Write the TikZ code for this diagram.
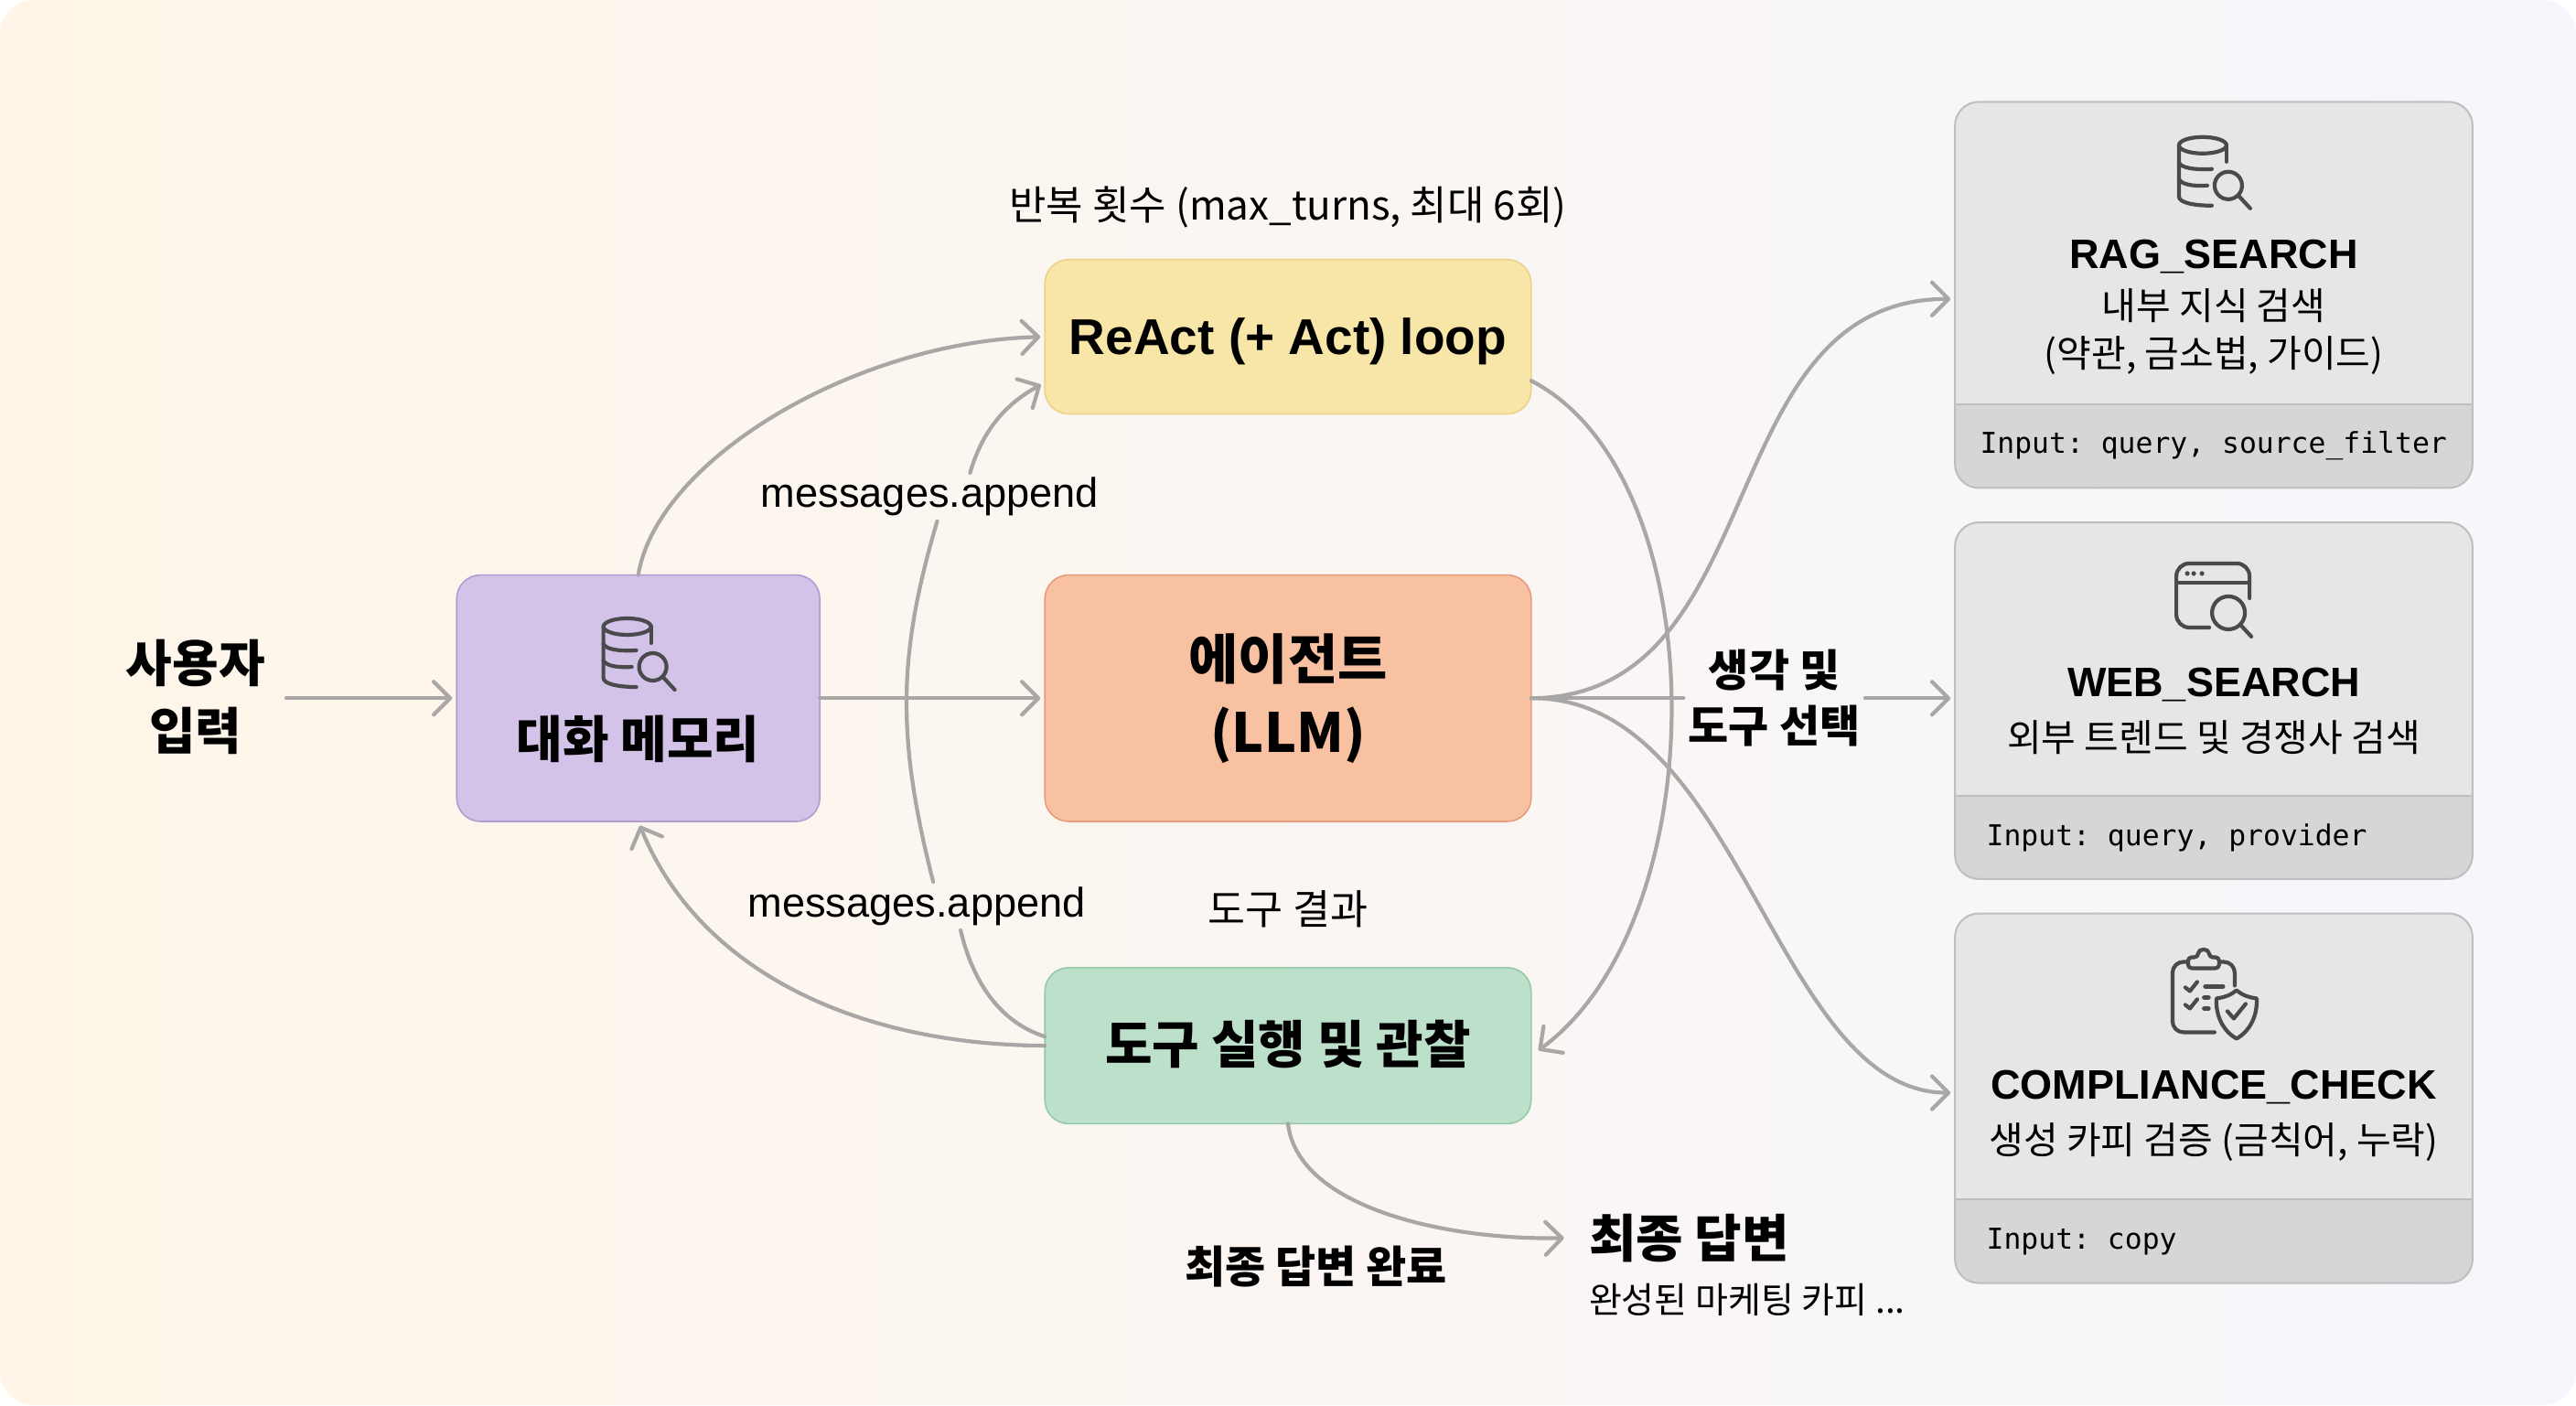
\documentclass[tikz,border=0pt]{standalone}
\usepackage{fontspec}
\setmainfont{Noto Sans CJK KR}
\newfontfamily\latinfont{Liberation Sans}
\newfontfamily\codefont{DejaVu Sans Mono}
\frenchspacing
\usetikzlibrary{arrows.meta,calc}
\definecolor{pagel}{HTML}{FFF6E9}
\definecolor{pagem}{HTML}{FCF9F5}
\definecolor{pager}{HTML}{F7F6FC}
\definecolor{wire}{HTML}{A9A7A5}
\definecolor{inkline}{HTML}{4A4A4C}
\definecolor{cardhi}{HTML}{E6E6E6}
\definecolor{cardlo}{HTML}{D5D6D6}
\definecolor{cardrim}{HTML}{BEBEBE}
\definecolor{BoxPurple}{HTML}{D4C3E9}
\definecolor{RimPurple}{HTML}{B39BD0}
\definecolor{BoxYellow}{HTML}{F8E6A8}
\definecolor{RimYellow}{HTML}{EBD38A}
\definecolor{BoxOrange}{HTML}{F8C2A2}
\definecolor{RimOrange}{HTML}{E79C7A}
\definecolor{BoxGreen}{HTML}{BCE0C9}
\definecolor{RimGreen}{HTML}{93CBA6}
\tikzset{
  box/.style={draw,line width=0.8pt,rounded corners=13pt,minimum width=265.8pt,outer sep=0pt,inner sep=0pt},
  card/.style={fill=cardhi,rounded corners=13pt,minimum width=282.9pt,outer sep=0pt,inner sep=0pt},
  flow/.style={draw=wire,line width=2.1pt,line cap=round,shorten >=2.5pt,-{Straight Barb[length=9pt,width=18pt,line width=2.1pt,round]}},
  plainflow/.style={draw=wire,line width=2.1pt,line cap=round},
  txt/.style={inner sep=2.5pt,align=center,text=black},
  icon/.style={draw=inkline,line width=2.1pt,line cap=round,line join=round},
  pics/dbicon/.style={code={
    \begin{scope}[x=0.5pt,y=-0.5pt,icon]
    \draw (-13,-28) ellipse [x radius=26,y radius=9];
    \draw (-39,-28) -- (-39,28) .. controls (-39,35) and (-22,38) .. (-3,38);
    \draw (13,-28) -- (13,-10);
    \draw (-39,-9) .. controls (-36,-3) and (-22,-1) .. (-3,-2);
    \draw (-39,9) .. controls (-36,15) and (-24,17) .. (-8,16);
    \draw (15,16) circle (15);
    \draw (26,27) -- (39,41);
    \end{scope}}},
  pics/webicon/.style={code={
    \begin{scope}[x=0.5pt,y=-0.5pt,icon]
    \draw[rounded corners=7pt] (-4,34) -- (-40,34) -- (-40,-36) -- (40,-36) -- (40,2);
    \draw (-40,-15) -- (40,-15);
    \foreach \d in {-28,-21,-12}
      \fill[inkline,draw=none] (\d,-25) circle (2.6);
    \draw (17,18) circle (18);
    \draw (30,31) -- (42,44);
    \end{scope}}},
  pics/clipicon/.style={code={
    \begin{scope}[x=0.5pt,y=-0.5pt,icon]
    \draw[rounded corners=6pt] (0,41) -- (-46,41) -- (-46,-36) -- (22,-36) -- (22,-10);
    \draw[fill=cardhi,rounded corners=2pt] (-29,-29) -- (-29,-41) -- (-18,-41) .. controls (-18,-51) and (-6,-51) .. (-6,-41) -- (5,-41) -- (5,-29) -- cycle;
    \foreach \d in {-8,11}
      \draw (-32,\d) -- (-27,{\d+4}) -- (-19,{\d-6});
    \draw[line width=2.6pt] (-10,-9) -- (9,-9);
    \draw[line width=2.8pt] (-11,3) -- (-7,3);
    \draw[line width=2.8pt] (-11,15) -- (-7,15);
    \draw (24,-5) .. controls (31,1) and (38,3) .. (46,4) .. controls (47,24) and (38,40) .. (24,48) .. controls (10,40) and (1,24) .. (2,4) .. controls (10,3) and (17,1) .. (24,-5) -- cycle;
    \draw (14,18) -- (21,26) -- (34,10);
    \end{scope}}}
}
\begin{document}
\begin{tikzpicture}[x=0.898pt,y=-0.898pt]
\useasboundingbox (0,0) rectangle (1568,855.3);
\shade[left color=pagel,middle color=pagem,right color=pager,rounded corners=18pt] (0,0) rectangle (1568,855.3);

\node[box,fill=BoxPurple,draw=RimPurple,minimum width=198.5pt,minimum height=134.7pt] (memory) at (388.5,425) {};
\node[box,fill=BoxYellow,draw=RimYellow,minimum height=84.4pt] (react) at (784,205) {};
\node[box,fill=BoxOrange,draw=RimOrange,minimum height=134.7pt] (agent) at (784,425) {};
\node[box,fill=BoxGreen,draw=RimGreen,minimum height=85.3pt] (exec) at (784,636.5) {};

\node[card,minimum height=211pt] (rag) at (1347.5,179.5) {};
\node[card,minimum height=194.9pt] (web) at (1347.5,426.5) {};
\node[card,minimum height=202pt] (comp) at (1347.5,668.5) {};
\foreach \n/\d in {rag/246,web/484.5,comp/730}{
  \begin{scope}
  \clip[rounded corners=13pt] (\n.north west) rectangle (\n.south east);
  \fill[cardlo] (\n.west |- 0,\d) rectangle (\n.south east);
  \end{scope}
  \draw[cardrim,line width=0.9pt] (\n.west |- 0,\d) -- (\n.east |- 0,\d);
  \draw[cardrim,line width=1pt,rounded corners=13pt] (\n.north west) rectangle (\n.south east);
}

\node[txt,font=\fontsize{27.5}{37}\selectfont\bfseries] (input) at (119,424) {사용자\\입력};
\node[txt,font=\fontsize{27.5}{37}\selectfont\bfseries] (memorytxt) at (388.5,450) {대화 메모리};
\node[txt,font=\latinfont\fontsize{27.5}{33}\selectfont\bfseries] (reacttxt) at (784,208) {ReAct (+ Act) loop};
\node[txt,font=\fontsize{29.5}{40}\selectfont\bfseries] (agenttxt) at (784,425) {에이전트\\(LLM)};
\node[txt,font=\fontsize{28}{34}\selectfont\bfseries] (exectxt) at (784,635.5) {도구 실행 및 관찰};
\node[txt,font=\fontsize{22}{28}\selectfont] (turns) at (784,126) {반복 횟수 (max\_turns, 최대 6회)};
\node[txt,font=\latinfont\fontsize{22.6}{28}\selectfont] (msgup) at (566,302.5) {messages.append};
\node[txt,font=\latinfont\fontsize{22.6}{28}\selectfont] (msgdown) at (558,551.5) {messages.append};
\node[txt,font=\fontsize{22.3}{28}\selectfont] (result) at (784,553.5) {도구 결과};
\node[txt,font=\fontsize{24}{30.5}\selectfont\bfseries] (think) at (1080,425) {생각 및\\도구 선택};
\node[txt,font=\fontsize{24}{30}\selectfont\bfseries] (done) at (801,771) {최종 답변 완료};
\node[txt,anchor=west,inner sep=0pt,font=\fontsize{28}{34}\selectfont\bfseries] (final) at (967,753.5) {최종 답변};
\node[txt,anchor=west,inner sep=0pt,font=\fontsize{19.5}{25}\selectfont] (finalsub) at (967,791) {완성된 마케팅 카피 ...};

\node[txt,font=\latinfont\fontsize{22.5}{28}\selectfont\bfseries] (ragname) at (1347.5,156) {RAG\_SEARCH};
\node[txt,font=\fontsize{20.5}{26}\selectfont] (ragsub) at (1347.5,202) {내부 지식 검색\\(약관, 금소법, 가이드)};
\node[txt,anchor=west,inner sep=0pt,font=\codefont\fontsize{15.7}{20}\selectfont] (raginput) at (1205,271) {Input: query, source\_filter};
\node[txt,font=\latinfont\fontsize{22.5}{28}\selectfont\bfseries] (webname) at (1347.5,417) {WEB\_SEARCH};
\node[txt,font=\fontsize{20.5}{29}\selectfont] (websub) at (1347.5,449) {외부 트렌드 및 경쟁사 검색};
\node[txt,anchor=west,inner sep=0pt,font=\codefont\fontsize{15.7}{20}\selectfont] (webinput) at (1209,510) {Input: query, provider};
\node[txt,font=\latinfont\fontsize{22.5}{28}\selectfont\bfseries] (compname) at (1347.5,662) {COMPLIANCE\_CHECK};
\node[txt,font=\fontsize{20.5}{29}\selectfont] (compsub) at (1347.5,695) {생성 카피 검증 (금칙어, 누락)};
\node[txt,anchor=west,inner sep=0pt,font=\codefont\fontsize{15.7}{20}\selectfont] (compinput) at (1209,756) {Input: copy};

\pic at (389,397) {dbicon};
\pic at (1348,104) {dbicon};
\pic at (1347,363) {webicon};
\pic at (1348,605.5) {clipicon};

\draw[flow] ([xshift=9pt]input.east |- memory.west) -- (memory.west);
\draw[flow] (memory.east) -- (agent.west);
\draw[flow] (memory.north) .. controls (400,280) and (520,208) .. (react.west);
\draw[flow] (exec.west) .. controls (520,636) and (425,590) .. (memory.south);
\draw[plainflow] ([yshift=5pt]exec.west) .. controls (608,622) and (592,597) .. ([xshift=24pt]msgdown.south);
\draw[plainflow] ([xshift=9pt]msgdown.north) .. controls (546,450) and (546,400) .. ([xshift=4pt]msgup.south);
\draw[flow] ([xshift=22pt]msgup.north) .. controls (598,262) and (612,246) .. ([yshift=-25pt]react.west);
\draw[flow] ([yshift=-24pt]react.east) .. controls (1045,290) and (1045,560) .. ([xshift=2pt,yshift=-4pt]exec.east);
\draw[flow] (agent.east) .. controls (1080,424) and (1040,182) .. ([yshift=-2.2pt]rag.west);
\draw[plainflow] (agent.east) -- (think.west);
\draw[flow] (think.east) -- (think.east -| web.west);
\draw[flow] (agent.east) .. controls (1060,424) and (1080,665) .. ([yshift=3pt]comp.west);
\draw[flow] (exec.south) .. controls (790,735) and (880,755) .. ([xshift=-11pt]final.west);
\end{tikzpicture}
\end{document}
